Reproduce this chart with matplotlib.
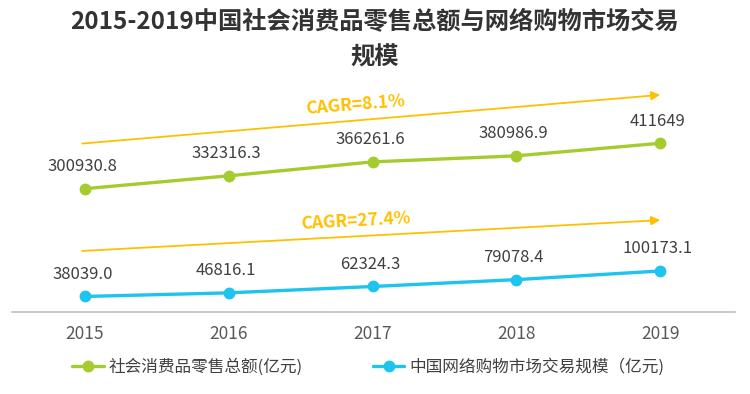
import numpy as np
import matplotlib
matplotlib.use("Agg")
import matplotlib.pyplot as plt

plt.rcParams['font.family'] = ['Noto Sans CJK SC', 'DejaVu Sans']

years = ['2015', '2016', '2017', '2018', '2019']
retail_total = [300930.8, 332316.3, 366261.6, 380986.9, 411649]
online_total = [38039.0, 46816.1, 62324.3, 79078.4, 100173.1]
retail_labels = ['300930.8', '332316.3', '366261.6', '380986.9', '411649']
online_labels = ['38039.0', '46816.1', '62324.3', '79078.4', '100173.1']
cagr_text = ['CAGR=8.1%', 'CAGR=27.4%']
legend_names = ['社会消费品零售总额(亿元)', '中国网络购物市场交易规模（亿元)']
title = '2015-2019中国社会消费品零售总额与网络购物市场交易\n规模'

green = '#A5CC2E'
blue = '#1EC4EE'
gold = '#FFC000'
label_col = '#404040'

fig = plt.figure(figsize=(7.5, 3.94), dpi=100)
ax = fig.add_axes([0.016, 0.208, 0.964, 0.589])

x = np.arange(len(years))
l1, = ax.plot(x, retail_total, color=green, lw=2.4, marker='o', ms=7.5, solid_capstyle='round')
l2, = ax.plot(x, online_total, color=blue, lw=2.4, marker='o', ms=7.5, solid_capstyle='round')

for xi, v, s in zip(x, retail_total, retail_labels):
    ax.annotate(s, (xi, v), xytext=(-2, 16), textcoords='offset points',
                ha='center', va='center', fontsize=12, color=label_col)
for xi, v, s in zip(x, online_total, online_labels):
    ax.annotate(s, (xi, v), xytext=(-2, 16), textcoords='offset points',
                ha='center', va='center', fontsize=12, color=label_col)

# CAGR arrows, lifted above each series
for series, txt, lift, rot in [(retail_total, cagr_text[0], (110000, 118000), 4.6),
                               (online_total, cagr_text[1], (111000, 124000), 3.0)]:
    y0 = series[0] + lift[0]
    y1 = series[-1] + lift[1]
    ax.annotate('', xy=(x[-1], y1), xytext=(x[0] - 0.02, y0),
                arrowprops=dict(arrowstyle='-|>', color=gold, lw=1.3,
                                mutation_scale=13, shrinkA=0, shrinkB=0))
    xm = 1.88
    ym = y0 + (y1 - y0) * (xm + 0.02) / 4.02
    ax.annotate(txt, (xm, ym), xytext=(0, 11), textcoords='offset points',
                ha='center', va='center', rotation=rot, fontsize=12.5,
                fontweight='bold', color=gold)

ax.set_xlim(-0.508, 4.52)
ax.set_ylim(0, 566000)
for s in ['top', 'right', 'left']:
    ax.spines[s].set_visible(False)
ax.spines['bottom'].set_color('#BFBFBF')
ax.spines['bottom'].set_linewidth(1.2)
ax.set_yticks([])
ax.set_xticks(x)
ax.set_xticklabels(years, fontsize=12.5, color='#595959')
ax.tick_params(axis='x', length=0, pad=9)

fig.text(0.5, 0.975, title, ha='center', va='top', fontsize=17.5,
         fontweight='bold', color='#333333', linespacing=1.6)

fig.legend([l1, l2], legend_names, loc='center', bbox_to_anchor=(0.491, 0.068),
           ncol=2, frameon=False, fontsize=12, handlelength=1.9,
           columnspacing=4.2, handletextpad=0.3, labelcolor=label_col)

fig.savefig('out.png', dpi=100)
